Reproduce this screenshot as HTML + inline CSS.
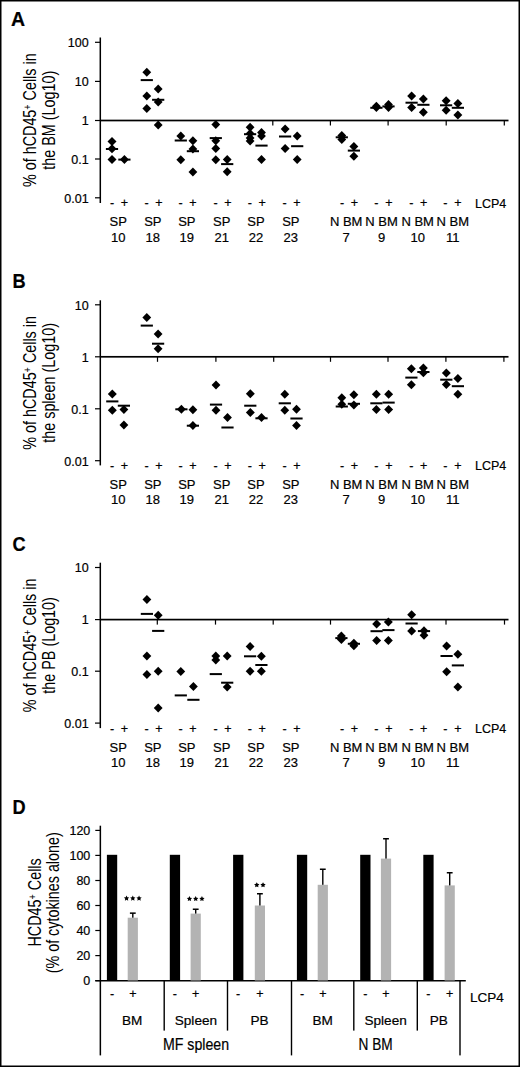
<!DOCTYPE html>
<html><head><meta charset="utf-8"><style>
html,body{margin:0;padding:0;background:#fff;}
svg{display:block;}
text{font-family:"Liberation Sans", sans-serif;fill:#000;stroke:#000;stroke-width:0.2px;}
</style></head><body>
<svg width="520" height="1067" viewBox="0 0 520 1067">
<rect width="520" height="1067" fill="#fff"/>
<g fill="#000">
<rect x="0.75" y="0.75" width="518.5" height="1065.5" fill="none" stroke="#000" stroke-width="1.5"/>
<text x="11" y="25.5" font-size="19.5" font-weight="bold">A</text>
<g transform="translate(12.4,288) scale(0.91,1)"><text x="0" y="0" font-size="20" font-weight="bold">B</text></g>
<g transform="translate(12.4,551.2) scale(0.91,1)"><text x="0" y="0" font-size="20" font-weight="bold">C</text></g>
<g transform="translate(12.4,813.6) scale(0.91,1)"><text x="0" y="0" font-size="20" font-weight="bold">D</text></g>
<rect x="99.55" y="37.5" width="1.5" height="165.5"/>
<rect x="95" y="41.7" width="5.5" height="1.2"/>
<text x="88.7" y="47.1" font-size="12.5" text-anchor="end" >100</text>
<rect x="95" y="80.8" width="5.5" height="1.2"/>
<text x="88.7" y="86.2" font-size="12.5" text-anchor="end" >10</text>
<rect x="95" y="119.9" width="5.5" height="1.2"/>
<text x="88.7" y="125.3" font-size="12.5" text-anchor="end" >1</text>
<rect x="95" y="158.4" width="5.5" height="1.2"/>
<text x="88.7" y="163.8" font-size="12.5" text-anchor="end" >0.1</text>
<rect x="95" y="197.2" width="5.5" height="1.2"/>
<text x="88.7" y="202.6" font-size="12.5" text-anchor="end" >0.01</text>
<rect x="100.3" y="119.65" width="408.2" height="1.7"/>
<rect x="272.2" y="120.5" width="1.2" height="5"/>
<rect x="329.8" y="120.5" width="1.2" height="5"/>
<rect x="387.5" y="120.5" width="1.2" height="5"/>
<rect x="445.6" y="120.5" width="1.2" height="5"/>
<rect x="503.7" y="120.5" width="1.2" height="5"/>
<path d="M112.0 137.1L116.5 141.6L112.0 146.1L107.5 141.6Z"/>
<path d="M112.0 144.3L116.5 148.8L112.0 153.3L107.5 148.8Z"/>
<path d="M112.0 155.0L116.5 159.5L112.0 164.0L107.5 159.5Z"/>
<path d="M124.4 155.1L128.8 159.6L124.4 164.1L120.0 159.6Z"/>
<rect x="105.9" y="148.0" width="12.2" height="2.0"/>
<rect x="118.3" y="158.6" width="12.2" height="2.0"/>
<path d="M146.8 67.7L151.2 72.2L146.8 76.7L142.4 72.2Z"/>
<path d="M146.8 91.5L151.2 96.0L146.8 100.5L142.4 96.0Z"/>
<path d="M146.8 103.9L151.2 108.4L146.8 112.9L142.4 108.4Z"/>
<path d="M158.2 84.4L162.6 88.9L158.2 93.4L153.8 88.9Z"/>
<path d="M158.2 97.5L162.6 102.0L158.2 106.5L153.8 102.0Z"/>
<path d="M158.2 120.5L162.6 125.0L158.2 129.5L153.8 125.0Z"/>
<rect x="140.7" y="79.1" width="12.2" height="2.0"/>
<rect x="152.1" y="98.8" width="12.2" height="2.0"/>
<path d="M180.8 131.6L185.2 136.1L180.8 140.6L176.4 136.1Z"/>
<path d="M180.8 155.2L185.2 159.7L180.8 164.2L176.4 159.7Z"/>
<path d="M192.9 136.3L197.3 140.8L192.9 145.3L188.5 140.8Z"/>
<path d="M192.9 144.4L197.3 148.9L192.9 153.4L188.5 148.9Z"/>
<path d="M192.9 167.6L197.3 172.1L192.9 176.6L188.5 172.1Z"/>
<rect x="174.7" y="139.5" width="12.2" height="2.0"/>
<rect x="186.8" y="150.2" width="12.2" height="2.0"/>
<path d="M215.8 119.9L220.2 124.4L215.8 128.9L211.4 124.4Z"/>
<path d="M215.8 136.2L220.2 140.7L215.8 145.2L211.4 140.7Z"/>
<path d="M215.8 144.0L220.2 148.5L215.8 153.0L211.4 148.5Z"/>
<path d="M215.8 155.2L220.2 159.7L215.8 164.2L211.4 159.7Z"/>
<path d="M227.2 154.9L231.6 159.4L227.2 163.9L222.8 159.4Z"/>
<path d="M227.2 167.3L231.6 171.8L227.2 176.3L222.8 171.8Z"/>
<rect x="209.7" y="137.1" width="12.2" height="2.0"/>
<rect x="221.1" y="163.1" width="12.2" height="2.0"/>
<path d="M250.1 122.7L254.5 127.2L250.1 131.7L245.7 127.2Z"/>
<path d="M250.1 129.0L254.5 133.5L250.1 138.0L245.7 133.5Z"/>
<path d="M250.1 133.5L254.5 138.0L250.1 142.5L245.7 138.0Z"/>
<path d="M250.1 136.6L254.5 141.1L250.1 145.6L245.7 141.1Z"/>
<path d="M261.5 128.1L265.9 132.6L261.5 137.1L257.1 132.6Z"/>
<path d="M261.5 131.5L265.9 136.0L261.5 140.5L257.1 136.0Z"/>
<path d="M261.5 154.9L265.9 159.4L261.5 163.9L257.1 159.4Z"/>
<rect x="244.0" y="133.2" width="12.2" height="2.0"/>
<rect x="255.4" y="144.6" width="12.2" height="2.0"/>
<path d="M285.1 124.6L289.6 129.1L285.1 133.6L280.7 129.1Z"/>
<path d="M285.1 144.1L289.6 148.6L285.1 153.1L280.7 148.6Z"/>
<path d="M297.2 131.4L301.6 135.9L297.2 140.4L292.8 135.9Z"/>
<path d="M297.2 154.9L301.6 159.4L297.2 163.9L292.8 159.4Z"/>
<rect x="279.0" y="135.5" width="12.2" height="2.0"/>
<rect x="291.1" y="145.2" width="12.2" height="2.0"/>
<path d="M341.8 131.0L346.2 135.5L341.8 140.0L337.4 135.5Z"/>
<path d="M341.8 134.9L346.2 139.4L341.8 143.9L337.4 139.4Z"/>
<path d="M353.9 141.9L358.3 146.4L353.9 150.9L349.4 146.4Z"/>
<path d="M353.9 151.8L358.3 156.3L353.9 160.8L349.4 156.3Z"/>
<rect x="335.7" y="136.3" width="12.2" height="2.0"/>
<rect x="347.8" y="149.6" width="12.2" height="2.0"/>
<path d="M376.4 101.8L380.8 106.3L376.4 110.8L371.9 106.3Z"/>
<path d="M376.4 102.9L380.8 107.4L376.4 111.9L371.9 107.4Z"/>
<path d="M388.5 100.1L392.9 104.6L388.5 109.1L384.1 104.6Z"/>
<path d="M388.5 102.9L392.9 107.4L388.5 111.9L384.1 107.4Z"/>
<rect x="370.3" y="106.8" width="12.2" height="2.0"/>
<rect x="382.4" y="105.4" width="12.2" height="2.0"/>
<path d="M411.6 91.4L416.1 95.9L411.6 100.4L407.2 95.9Z"/>
<path d="M411.6 103.0L416.1 107.5L411.6 112.0L407.2 107.5Z"/>
<path d="M423.4 94.6L427.8 99.1L423.4 103.6L418.9 99.1Z"/>
<path d="M423.4 107.7L427.8 112.2L423.4 116.7L418.9 112.2Z"/>
<rect x="405.5" y="101.7" width="12.2" height="2.0"/>
<rect x="417.3" y="103.8" width="12.2" height="2.0"/>
<path d="M446.1 96.3L450.6 100.8L446.1 105.3L441.7 100.8Z"/>
<path d="M446.1 105.7L450.6 110.2L446.1 114.7L441.7 110.2Z"/>
<path d="M457.9 99.0L462.3 103.5L457.9 108.0L453.4 103.5Z"/>
<path d="M457.9 110.4L462.3 114.9L457.9 119.4L453.4 114.9Z"/>
<rect x="440.0" y="104.3" width="12.2" height="2.0"/>
<rect x="451.8" y="106.8" width="12.2" height="2.0"/>
<text x="112.0" y="207.4" font-size="12.5" text-anchor="middle" >-</text>
<text x="124.4" y="207.4" font-size="12.5" text-anchor="middle" >+</text>
<text x="146.6" y="207.4" font-size="12.5" text-anchor="middle" >-</text>
<text x="159.0" y="207.4" font-size="12.5" text-anchor="middle" >+</text>
<text x="180.6" y="207.4" font-size="12.5" text-anchor="middle" >-</text>
<text x="193.0" y="207.4" font-size="12.5" text-anchor="middle" >+</text>
<text x="215.5" y="207.4" font-size="12.5" text-anchor="middle" >-</text>
<text x="227.9" y="207.4" font-size="12.5" text-anchor="middle" >+</text>
<text x="249.8" y="207.4" font-size="12.5" text-anchor="middle" >-</text>
<text x="262.2" y="207.4" font-size="12.5" text-anchor="middle" >+</text>
<text x="284.6" y="207.4" font-size="12.5" text-anchor="middle" >-</text>
<text x="297.0" y="207.4" font-size="12.5" text-anchor="middle" >+</text>
<text x="342.0" y="207.4" font-size="12.5" text-anchor="middle" >-</text>
<text x="354.4" y="207.4" font-size="12.5" text-anchor="middle" >+</text>
<text x="376.4" y="207.4" font-size="12.5" text-anchor="middle" >-</text>
<text x="388.8" y="207.4" font-size="12.5" text-anchor="middle" >+</text>
<text x="411.3" y="207.4" font-size="12.5" text-anchor="middle" >-</text>
<text x="423.7" y="207.4" font-size="12.5" text-anchor="middle" >+</text>
<text x="445.4" y="207.4" font-size="12.5" text-anchor="middle" >-</text>
<text x="457.8" y="207.4" font-size="12.5" text-anchor="middle" >+</text>
<text x="118.2" y="226.3" font-size="13" text-anchor="middle" >SP</text>
<text x="118.2" y="241.9" font-size="13" text-anchor="middle" >10</text>
<text x="152.8" y="226.3" font-size="13" text-anchor="middle" >SP</text>
<text x="152.8" y="241.9" font-size="13" text-anchor="middle" >18</text>
<text x="186.8" y="226.3" font-size="13" text-anchor="middle" >SP</text>
<text x="186.8" y="241.9" font-size="13" text-anchor="middle" >19</text>
<text x="221.7" y="226.3" font-size="13" text-anchor="middle" >SP</text>
<text x="221.7" y="241.9" font-size="13" text-anchor="middle" >21</text>
<text x="256.0" y="226.3" font-size="13" text-anchor="middle" >SP</text>
<text x="256.0" y="241.9" font-size="13" text-anchor="middle" >22</text>
<text x="290.8" y="226.3" font-size="13" text-anchor="middle" >SP</text>
<text x="290.8" y="241.9" font-size="13" text-anchor="middle" >23</text>
<text x="346.2" y="226.3" font-size="13" text-anchor="middle" >N BM</text>
<text x="346.2" y="241.9" font-size="13" text-anchor="middle" >7</text>
<text x="381.6" y="226.3" font-size="13" text-anchor="middle" >N BM</text>
<text x="381.6" y="241.9" font-size="13" text-anchor="middle" >9</text>
<text x="417.7" y="226.3" font-size="13" text-anchor="middle" >N BM</text>
<text x="417.7" y="241.9" font-size="13" text-anchor="middle" >10</text>
<text x="452.8" y="226.3" font-size="13" text-anchor="middle" >N BM</text>
<text x="452.8" y="241.9" font-size="13" text-anchor="middle" >11</text>
<text x="475.0" y="207.9" font-size="12.5" text-anchor="start" >LCP4</text>
<g transform="translate(36.3,120.2) rotate(-90) scale(0.82,1)"><text x="0" y="0" font-size="17.5" text-anchor="middle" style="stroke-width:0">% of hCD45<tspan dy="-5.5" font-size="11">+</tspan><tspan dy="5.5"> Cells in</tspan></text></g>
<g transform="translate(55.2,120.2) rotate(-90) scale(0.82,1)"><text x="0" y="0" font-size="17.5" text-anchor="middle" style="stroke-width:0">the BM (Log10)</text></g>
<rect x="99.55" y="300.3" width="1.5" height="165.09999999999997"/>
<rect x="95" y="304.2" width="5.5" height="1.2"/>
<text x="88.7" y="309.6" font-size="12.5" text-anchor="end" >10</text>
<rect x="95" y="356.2" width="5.5" height="1.2"/>
<text x="88.7" y="361.6" font-size="12.5" text-anchor="end" >1</text>
<rect x="95" y="408.2" width="5.5" height="1.2"/>
<text x="88.7" y="413.6" font-size="12.5" text-anchor="end" >0.1</text>
<rect x="95" y="460.1" width="5.5" height="1.2"/>
<text x="88.7" y="465.5" font-size="12.5" text-anchor="end" >0.01</text>
<rect x="100.3" y="355.95" width="408.2" height="1.7"/>
<rect x="156.9" y="356.8" width="1.2" height="5"/>
<rect x="215.3" y="356.8" width="1.2" height="5"/>
<rect x="273.1" y="356.8" width="1.2" height="5"/>
<rect x="329.9" y="356.8" width="1.2" height="5"/>
<rect x="387.4" y="356.8" width="1.2" height="5"/>
<rect x="445.3" y="356.8" width="1.2" height="5"/>
<rect x="503.3" y="356.8" width="1.2" height="5"/>
<path d="M112.3 389.6L116.8 394.1L112.3 398.6L107.8 394.1Z"/>
<path d="M112.3 405.7L116.8 410.2L112.3 414.7L107.8 410.2Z"/>
<path d="M123.9 405.1L128.3 409.6L123.9 414.1L119.5 409.6Z"/>
<path d="M123.9 420.5L128.3 425.0L123.9 429.5L119.5 425.0Z"/>
<rect x="106.2" y="400.4" width="12.2" height="2.0"/>
<rect x="117.8" y="404.7" width="12.2" height="2.0"/>
<path d="M146.8 313.0L151.2 317.5L146.8 322.0L142.4 317.5Z"/>
<path d="M158.1 329.5L162.5 334.0L158.1 338.5L153.7 334.0Z"/>
<path d="M158.1 344.2L162.5 348.7L158.1 353.2L153.7 348.7Z"/>
<rect x="140.7" y="324.6" width="12.2" height="2.0"/>
<rect x="152.0" y="342.7" width="12.2" height="2.0"/>
<path d="M181.4 404.8L185.8 409.3L181.4 413.8L177.0 409.3Z"/>
<path d="M192.9 405.2L197.3 409.7L192.9 414.2L188.5 409.7Z"/>
<path d="M192.9 421.0L197.3 425.5L192.9 430.0L188.5 425.5Z"/>
<rect x="175.3" y="408.3" width="12.2" height="2.0"/>
<rect x="186.8" y="424.7" width="12.2" height="2.0"/>
<path d="M216.0 380.6L220.4 385.1L216.0 389.6L211.6 385.1Z"/>
<path d="M216.0 405.8L220.4 410.3L216.0 414.8L211.6 410.3Z"/>
<path d="M227.5 412.9L231.9 417.4L227.5 421.9L223.1 417.4Z"/>
<rect x="209.9" y="403.6" width="12.2" height="2.0"/>
<rect x="221.4" y="426.5" width="12.2" height="2.0"/>
<path d="M250.3 389.3L254.8 393.8L250.3 398.3L245.9 393.8Z"/>
<path d="M250.3 407.9L254.8 412.4L250.3 416.9L245.9 412.4Z"/>
<path d="M261.5 412.9L265.9 417.4L261.5 421.9L257.1 417.4Z"/>
<rect x="244.2" y="404.7" width="12.2" height="2.0"/>
<rect x="255.4" y="417.3" width="12.2" height="2.0"/>
<path d="M284.8 389.7L289.2 394.2L284.8 398.7L280.4 394.2Z"/>
<path d="M284.8 405.8L289.2 410.3L284.8 414.8L280.4 410.3Z"/>
<path d="M296.5 404.8L300.9 409.3L296.5 413.8L292.1 409.3Z"/>
<path d="M296.5 421.0L300.9 425.5L296.5 430.0L292.1 425.5Z"/>
<rect x="278.7" y="402.3" width="12.2" height="2.0"/>
<rect x="290.4" y="417.5" width="12.2" height="2.0"/>
<path d="M341.8 393.2L346.2 397.7L341.8 402.2L337.4 397.7Z"/>
<path d="M341.8 399.7L346.2 404.2L341.8 408.7L337.4 404.2Z"/>
<path d="M353.9 390.3L358.3 394.8L353.9 399.3L349.4 394.8Z"/>
<path d="M353.9 400.4L358.3 404.9L353.9 409.4L349.4 404.9Z"/>
<rect x="335.7" y="405.5" width="12.2" height="2.0"/>
<rect x="347.8" y="402.8" width="12.2" height="2.0"/>
<path d="M376.4 389.8L380.8 394.3L376.4 398.8L371.9 394.3Z"/>
<path d="M376.4 405.1L380.8 409.6L376.4 414.1L371.9 409.6Z"/>
<path d="M388.6 389.8L393.1 394.3L388.6 398.8L384.2 394.3Z"/>
<path d="M388.6 405.1L393.1 409.6L388.6 414.1L384.2 409.6Z"/>
<rect x="370.3" y="402.3" width="12.2" height="2.0"/>
<rect x="382.5" y="401.6" width="12.2" height="2.0"/>
<path d="M411.4 364.3L415.8 368.8L411.4 373.3L406.9 368.8Z"/>
<path d="M411.4 380.3L415.8 384.8L411.4 389.3L406.9 384.8Z"/>
<path d="M423.4 363.6L427.8 368.1L423.4 372.6L418.9 368.1Z"/>
<path d="M423.4 368.3L427.8 372.8L423.4 377.3L418.9 372.8Z"/>
<rect x="405.3" y="376.6" width="12.2" height="2.0"/>
<rect x="417.3" y="371.0" width="12.2" height="2.0"/>
<path d="M446.3 368.6L450.8 373.1L446.3 377.6L441.9 373.1Z"/>
<path d="M446.3 380.0L450.8 384.5L446.3 389.0L441.9 384.5Z"/>
<path d="M457.9 374.0L462.3 378.5L457.9 383.0L453.4 378.5Z"/>
<path d="M457.9 389.8L462.3 394.3L457.9 398.8L453.4 394.3Z"/>
<rect x="440.2" y="378.7" width="12.2" height="2.0"/>
<rect x="451.8" y="385.2" width="12.2" height="2.0"/>
<text x="112.0" y="469.8" font-size="12.5" text-anchor="middle" >-</text>
<text x="124.4" y="469.8" font-size="12.5" text-anchor="middle" >+</text>
<text x="146.6" y="469.8" font-size="12.5" text-anchor="middle" >-</text>
<text x="159.0" y="469.8" font-size="12.5" text-anchor="middle" >+</text>
<text x="180.6" y="469.8" font-size="12.5" text-anchor="middle" >-</text>
<text x="193.0" y="469.8" font-size="12.5" text-anchor="middle" >+</text>
<text x="215.5" y="469.8" font-size="12.5" text-anchor="middle" >-</text>
<text x="227.9" y="469.8" font-size="12.5" text-anchor="middle" >+</text>
<text x="249.8" y="469.8" font-size="12.5" text-anchor="middle" >-</text>
<text x="262.2" y="469.8" font-size="12.5" text-anchor="middle" >+</text>
<text x="284.6" y="469.8" font-size="12.5" text-anchor="middle" >-</text>
<text x="297.0" y="469.8" font-size="12.5" text-anchor="middle" >+</text>
<text x="342.0" y="469.8" font-size="12.5" text-anchor="middle" >-</text>
<text x="354.4" y="469.8" font-size="12.5" text-anchor="middle" >+</text>
<text x="376.4" y="469.8" font-size="12.5" text-anchor="middle" >-</text>
<text x="388.8" y="469.8" font-size="12.5" text-anchor="middle" >+</text>
<text x="411.3" y="469.8" font-size="12.5" text-anchor="middle" >-</text>
<text x="423.7" y="469.8" font-size="12.5" text-anchor="middle" >+</text>
<text x="445.4" y="469.8" font-size="12.5" text-anchor="middle" >-</text>
<text x="457.8" y="469.8" font-size="12.5" text-anchor="middle" >+</text>
<text x="118.2" y="488.7" font-size="13" text-anchor="middle" >SP</text>
<text x="118.2" y="504.3" font-size="13" text-anchor="middle" >10</text>
<text x="152.8" y="488.7" font-size="13" text-anchor="middle" >SP</text>
<text x="152.8" y="504.3" font-size="13" text-anchor="middle" >18</text>
<text x="186.8" y="488.7" font-size="13" text-anchor="middle" >SP</text>
<text x="186.8" y="504.3" font-size="13" text-anchor="middle" >19</text>
<text x="221.7" y="488.7" font-size="13" text-anchor="middle" >SP</text>
<text x="221.7" y="504.3" font-size="13" text-anchor="middle" >21</text>
<text x="256.0" y="488.7" font-size="13" text-anchor="middle" >SP</text>
<text x="256.0" y="504.3" font-size="13" text-anchor="middle" >22</text>
<text x="290.8" y="488.7" font-size="13" text-anchor="middle" >SP</text>
<text x="290.8" y="504.3" font-size="13" text-anchor="middle" >23</text>
<text x="346.2" y="488.7" font-size="13" text-anchor="middle" >N BM</text>
<text x="346.2" y="504.3" font-size="13" text-anchor="middle" >7</text>
<text x="381.6" y="488.7" font-size="13" text-anchor="middle" >N BM</text>
<text x="381.6" y="504.3" font-size="13" text-anchor="middle" >9</text>
<text x="417.7" y="488.7" font-size="13" text-anchor="middle" >N BM</text>
<text x="417.7" y="504.3" font-size="13" text-anchor="middle" >10</text>
<text x="452.8" y="488.7" font-size="13" text-anchor="middle" >N BM</text>
<text x="452.8" y="504.3" font-size="13" text-anchor="middle" >11</text>
<text x="475.0" y="470.3" font-size="12.5" text-anchor="start" >LCP4</text>
<g transform="translate(36.3,382.9) rotate(-90) scale(0.82,1)"><text x="0" y="0" font-size="17.5" text-anchor="middle" style="stroke-width:0">% of hCD45<tspan dy="-5.5" font-size="11">+</tspan><tspan dy="5.5"> Cells in</tspan></text></g>
<g transform="translate(55.2,382.9) rotate(-90) scale(0.82,1)"><text x="0" y="0" font-size="17.5" text-anchor="middle" style="stroke-width:0">the spleen (Log10)</text></g>
<rect x="99.55" y="562.7" width="1.5" height="165.39999999999998"/>
<rect x="95" y="566.9" width="5.5" height="1.2"/>
<text x="88.7" y="572.3" font-size="12.5" text-anchor="end" >10</text>
<rect x="95" y="619.0" width="5.5" height="1.2"/>
<text x="88.7" y="624.4" font-size="12.5" text-anchor="end" >1</text>
<rect x="95" y="670.6" width="5.5" height="1.2"/>
<text x="88.7" y="676.0" font-size="12.5" text-anchor="end" >0.1</text>
<rect x="95" y="722.5" width="5.5" height="1.2"/>
<text x="88.7" y="727.9" font-size="12.5" text-anchor="end" >0.01</text>
<rect x="100.3" y="618.75" width="408.2" height="1.7"/>
<rect x="156.7" y="619.6" width="1.2" height="5"/>
<rect x="214.9" y="619.6" width="1.2" height="5"/>
<rect x="272.6" y="619.6" width="1.2" height="5"/>
<rect x="329.9" y="619.6" width="1.2" height="5"/>
<rect x="387.4" y="619.6" width="1.2" height="5"/>
<rect x="445.4" y="619.6" width="1.2" height="5"/>
<rect x="503.9" y="619.6" width="1.2" height="5"/>
<path d="M146.9 594.9L151.3 599.4L146.9 603.9L142.5 599.4Z"/>
<path d="M146.9 651.6L151.3 656.1L146.9 660.6L142.5 656.1Z"/>
<path d="M146.9 670.1L151.3 674.6L146.9 679.1L142.5 674.6Z"/>
<path d="M158.2 610.7L162.6 615.2L158.2 619.7L153.8 615.2Z"/>
<path d="M158.2 666.8L162.6 671.3L158.2 675.8L153.8 671.3Z"/>
<path d="M158.2 703.6L162.6 708.1L158.2 712.6L153.8 708.1Z"/>
<rect x="140.8" y="612.9" width="12.2" height="2.0"/>
<rect x="152.1" y="629.9" width="12.2" height="2.0"/>
<path d="M180.8 666.9L185.2 671.4L180.8 675.9L176.4 671.4Z"/>
<path d="M193.4 682.1L197.8 686.6L193.4 691.1L189.0 686.6Z"/>
<rect x="174.7" y="694.4" width="12.2" height="2.0"/>
<rect x="187.3" y="698.8" width="12.2" height="2.0"/>
<path d="M215.8 651.4L220.2 655.9L215.8 660.4L211.4 655.9Z"/>
<path d="M215.8 655.5L220.2 660.0L215.8 664.5L211.4 660.0Z"/>
<path d="M227.2 651.6L231.6 656.1L227.2 660.6L222.8 656.1Z"/>
<path d="M227.2 682.6L231.6 687.1L227.2 691.6L222.8 687.1Z"/>
<rect x="209.7" y="673.1" width="12.2" height="2.0"/>
<rect x="221.1" y="681.7" width="12.2" height="2.0"/>
<path d="M250.1 641.9L254.5 646.4L250.1 650.9L245.7 646.4Z"/>
<path d="M250.1 666.8L254.5 671.3L250.1 675.8L245.7 671.3Z"/>
<path d="M261.4 651.7L265.8 656.2L261.4 660.7L256.9 656.2Z"/>
<path d="M261.4 666.8L265.8 671.3L261.4 675.8L256.9 671.3Z"/>
<rect x="244.0" y="655.3" width="12.2" height="2.0"/>
<rect x="255.3" y="664.0" width="12.2" height="2.0"/>
<path d="M341.4 631.5L345.8 636.0L341.4 640.5L336.9 636.0Z"/>
<path d="M341.4 634.9L345.8 639.4L341.4 643.9L336.9 639.4Z"/>
<path d="M353.9 638.8L358.3 643.3L353.9 647.8L349.4 643.3Z"/>
<path d="M353.9 641.2L358.3 645.7L353.9 650.2L349.4 645.7Z"/>
<rect x="335.3" y="637.1" width="12.2" height="2.0"/>
<rect x="347.8" y="642.8" width="12.2" height="2.0"/>
<path d="M376.6 619.6L381.1 624.1L376.6 628.6L372.2 624.1Z"/>
<path d="M376.6 636.1L381.1 640.6L376.6 645.1L372.2 640.6Z"/>
<path d="M388.4 617.6L392.8 622.1L388.4 626.6L383.9 622.1Z"/>
<path d="M388.4 636.1L392.8 640.6L388.4 645.1L383.9 640.6Z"/>
<rect x="370.5" y="630.2" width="12.2" height="2.0"/>
<rect x="382.3" y="629.1" width="12.2" height="2.0"/>
<path d="M411.6 610.3L416.1 614.8L411.6 619.3L407.2 614.8Z"/>
<path d="M411.6 626.4L416.1 630.9L411.6 635.4L407.2 630.9Z"/>
<path d="M424.0 626.2L428.4 630.7L424.0 635.2L419.6 630.7Z"/>
<path d="M424.0 630.7L428.4 635.2L424.0 639.7L419.6 635.2Z"/>
<rect x="405.5" y="622.5" width="12.2" height="2.0"/>
<rect x="417.9" y="630.1" width="12.2" height="2.0"/>
<path d="M446.6 641.6L451.1 646.1L446.6 650.6L442.2 646.1Z"/>
<path d="M446.6 667.2L451.1 671.7L446.6 676.2L442.2 671.7Z"/>
<path d="M457.9 649.7L462.3 654.2L457.9 658.7L453.4 654.2Z"/>
<path d="M457.9 682.4L462.3 686.9L457.9 691.4L453.4 686.9Z"/>
<rect x="440.5" y="655.0" width="12.2" height="2.0"/>
<rect x="451.8" y="664.4" width="12.2" height="2.0"/>
<text x="112.0" y="732.5" font-size="12.5" text-anchor="middle" >-</text>
<text x="124.4" y="732.5" font-size="12.5" text-anchor="middle" >+</text>
<text x="146.6" y="732.5" font-size="12.5" text-anchor="middle" >-</text>
<text x="159.0" y="732.5" font-size="12.5" text-anchor="middle" >+</text>
<text x="180.6" y="732.5" font-size="12.5" text-anchor="middle" >-</text>
<text x="193.0" y="732.5" font-size="12.5" text-anchor="middle" >+</text>
<text x="215.5" y="732.5" font-size="12.5" text-anchor="middle" >-</text>
<text x="227.9" y="732.5" font-size="12.5" text-anchor="middle" >+</text>
<text x="249.8" y="732.5" font-size="12.5" text-anchor="middle" >-</text>
<text x="262.2" y="732.5" font-size="12.5" text-anchor="middle" >+</text>
<text x="284.6" y="732.5" font-size="12.5" text-anchor="middle" >-</text>
<text x="297.0" y="732.5" font-size="12.5" text-anchor="middle" >+</text>
<text x="342.0" y="732.5" font-size="12.5" text-anchor="middle" >-</text>
<text x="354.4" y="732.5" font-size="12.5" text-anchor="middle" >+</text>
<text x="376.4" y="732.5" font-size="12.5" text-anchor="middle" >-</text>
<text x="388.8" y="732.5" font-size="12.5" text-anchor="middle" >+</text>
<text x="411.3" y="732.5" font-size="12.5" text-anchor="middle" >-</text>
<text x="423.7" y="732.5" font-size="12.5" text-anchor="middle" >+</text>
<text x="445.4" y="732.5" font-size="12.5" text-anchor="middle" >-</text>
<text x="457.8" y="732.5" font-size="12.5" text-anchor="middle" >+</text>
<text x="118.2" y="752.2" font-size="13" text-anchor="middle" >SP</text>
<text x="118.2" y="767.0" font-size="13" text-anchor="middle" >10</text>
<text x="152.8" y="752.2" font-size="13" text-anchor="middle" >SP</text>
<text x="152.8" y="767.0" font-size="13" text-anchor="middle" >18</text>
<text x="186.8" y="752.2" font-size="13" text-anchor="middle" >SP</text>
<text x="186.8" y="767.0" font-size="13" text-anchor="middle" >19</text>
<text x="221.7" y="752.2" font-size="13" text-anchor="middle" >SP</text>
<text x="221.7" y="767.0" font-size="13" text-anchor="middle" >21</text>
<text x="256.0" y="752.2" font-size="13" text-anchor="middle" >SP</text>
<text x="256.0" y="767.0" font-size="13" text-anchor="middle" >22</text>
<text x="290.8" y="752.2" font-size="13" text-anchor="middle" >SP</text>
<text x="290.8" y="767.0" font-size="13" text-anchor="middle" >23</text>
<text x="346.2" y="752.2" font-size="13" text-anchor="middle" >N BM</text>
<text x="346.2" y="767.0" font-size="13" text-anchor="middle" >7</text>
<text x="381.6" y="752.2" font-size="13" text-anchor="middle" >N BM</text>
<text x="381.6" y="767.0" font-size="13" text-anchor="middle" >9</text>
<text x="417.7" y="752.2" font-size="13" text-anchor="middle" >N BM</text>
<text x="417.7" y="767.0" font-size="13" text-anchor="middle" >10</text>
<text x="452.8" y="752.2" font-size="13" text-anchor="middle" >N BM</text>
<text x="452.8" y="767.0" font-size="13" text-anchor="middle" >11</text>
<text x="475.0" y="733.0" font-size="12.5" text-anchor="start" >LCP4</text>
<g transform="translate(36.3,645.4) rotate(-90) scale(0.82,1)"><text x="0" y="0" font-size="17.5" text-anchor="middle" style="stroke-width:0">% of hCD45<tspan dy="-5.5" font-size="11">+</tspan><tspan dy="5.5"> Cells in</tspan></text></g>
<g transform="translate(55.2,645.4) rotate(-90) scale(0.82,1)"><text x="0" y="0" font-size="17.5" text-anchor="middle" style="stroke-width:0">the PB (Log10)</text></g>
<rect x="99.6" y="825.7" width="1.5" height="229.7"/>
<rect x="95.3" y="980.0" width="5" height="1.2"/>
<text x="90.3" y="985.0" font-size="12.5" text-anchor="end" >0</text>
<rect x="95.3" y="955.0" width="5" height="1.2"/>
<text x="90.3" y="960.0" font-size="12.5" text-anchor="end" >20</text>
<rect x="95.3" y="929.9" width="5" height="1.2"/>
<text x="90.3" y="934.9" font-size="12.5" text-anchor="end" >40</text>
<rect x="95.3" y="904.9" width="5" height="1.2"/>
<text x="90.3" y="909.9" font-size="12.5" text-anchor="end" >60</text>
<rect x="95.3" y="879.9" width="5" height="1.2"/>
<text x="90.3" y="884.9" font-size="12.5" text-anchor="end" >80</text>
<rect x="95.3" y="854.8" width="5" height="1.2"/>
<text x="90.3" y="859.8" font-size="12.5" text-anchor="end" >100</text>
<rect x="95.3" y="829.8" width="5" height="1.2"/>
<text x="90.3" y="834.8" font-size="12.5" text-anchor="end" >120</text>
<rect x="95.3" y="980.0" width="370.5" height="1.5"/>
<rect x="163.5" y="980.5" width="1.4" height="50.1"/>
<rect x="226.8" y="980.5" width="1.4" height="50.1"/>
<rect x="290.8" y="980.5" width="1.4" height="74.9"/>
<rect x="353.1" y="980.5" width="1.4" height="50.1"/>
<rect x="416.6" y="980.5" width="1.4" height="50.1"/>
<rect x="459.3" y="980.5" width="1.4" height="74.9"/>
<rect x="106.9" y="854.8" width="10.3" height="125.7"/>
<rect x="127.7" y="917.7" width="10.2" height="62.8" fill="#b3b3b3"/>
<rect x="132.1" y="913.1" width="1.4" height="4.6"/>
<rect x="129.9" y="912.4" width="5.8" height="1.5"/>
<polygon points="126.55,895.60 127.37,897.27 129.21,897.53 127.88,898.83 128.20,900.67 126.55,899.80 124.90,900.67 125.22,898.83 123.89,897.53 125.73,897.27"/>
<polygon points="132.80,895.60 133.62,897.27 135.46,897.53 134.13,898.83 134.45,900.67 132.80,899.80 131.15,900.67 131.47,898.83 130.14,897.53 131.98,897.27"/>
<polygon points="139.05,895.60 139.87,897.27 141.71,897.53 140.38,898.83 140.70,900.67 139.05,899.80 137.40,900.67 137.72,898.83 136.39,897.53 138.23,897.27"/>
<text x="112.0" y="998.4" font-size="12.5" text-anchor="middle" >-</text>
<text x="132.8" y="998.4" font-size="12.5" text-anchor="middle" >+</text>
<rect x="169.8" y="854.8" width="10.3" height="125.7"/>
<rect x="190.6" y="913.6" width="10.2" height="66.9" fill="#b3b3b3"/>
<rect x="195.0" y="909.2" width="1.4" height="4.4"/>
<rect x="192.8" y="908.5" width="5.8" height="1.5"/>
<polygon points="189.45,896.00 190.27,897.67 192.11,897.93 190.78,899.23 191.10,901.07 189.45,900.20 187.80,901.07 188.12,899.23 186.79,897.93 188.63,897.67"/>
<polygon points="195.70,896.00 196.52,897.67 198.36,897.93 197.03,899.23 197.35,901.07 195.70,900.20 194.05,901.07 194.37,899.23 193.04,897.93 194.88,897.67"/>
<polygon points="201.95,896.00 202.77,897.67 204.61,897.93 203.28,899.23 203.60,901.07 201.95,900.20 200.30,901.07 200.62,899.23 199.29,897.93 201.13,897.67"/>
<text x="174.9" y="998.4" font-size="12.5" text-anchor="middle" >-</text>
<text x="195.7" y="998.4" font-size="12.5" text-anchor="middle" >+</text>
<rect x="233.1" y="854.8" width="10.3" height="125.7"/>
<rect x="254.8" y="905.5" width="10.2" height="75.0" fill="#b3b3b3"/>
<rect x="259.2" y="893.7" width="1.4" height="11.8"/>
<rect x="257.0" y="893.0" width="5.8" height="1.5"/>
<polygon points="256.78,882.20 257.60,883.87 259.44,884.13 258.11,885.43 258.42,887.27 256.78,886.40 255.13,887.27 255.44,885.43 254.11,884.13 255.95,883.87"/>
<polygon points="263.03,882.20 263.85,883.87 265.69,884.13 264.36,885.43 264.67,887.27 263.03,886.40 261.38,887.27 261.69,885.43 260.36,884.13 262.20,883.87"/>
<text x="238.2" y="998.4" font-size="12.5" text-anchor="middle" >-</text>
<text x="259.9" y="998.4" font-size="12.5" text-anchor="middle" >+</text>
<rect x="296.9" y="854.8" width="10.3" height="125.7"/>
<rect x="317.7" y="884.8" width="10.2" height="95.7" fill="#b3b3b3"/>
<rect x="322.1" y="869.2" width="1.4" height="15.6"/>
<rect x="319.9" y="868.5" width="5.8" height="1.5"/>
<text x="302.0" y="998.4" font-size="12.5" text-anchor="middle" >-</text>
<text x="322.8" y="998.4" font-size="12.5" text-anchor="middle" >+</text>
<rect x="360.2" y="854.8" width="10.3" height="125.7"/>
<rect x="380.9" y="858.6" width="10.2" height="121.9" fill="#b3b3b3"/>
<rect x="385.3" y="838.7" width="1.4" height="19.9"/>
<rect x="383.1" y="838.0" width="5.8" height="1.5"/>
<text x="365.3" y="998.4" font-size="12.5" text-anchor="middle" >-</text>
<text x="386.0" y="998.4" font-size="12.5" text-anchor="middle" >+</text>
<rect x="423.3" y="854.8" width="10.3" height="125.7"/>
<rect x="444.6" y="885.4" width="10.2" height="95.1" fill="#b3b3b3"/>
<rect x="449.0" y="872.7" width="1.4" height="12.7"/>
<rect x="446.8" y="872.0" width="5.8" height="1.5"/>
<text x="428.4" y="998.4" font-size="12.5" text-anchor="middle" >-</text>
<text x="449.7" y="998.4" font-size="12.5" text-anchor="middle" >+</text>
<text x="132.1" y="1024.5" font-size="13.6" text-anchor="middle" >BM</text>
<text x="195.9" y="1024.5" font-size="13.6" text-anchor="middle" >Spleen</text>
<text x="259.5" y="1024.5" font-size="13.6" text-anchor="middle" >PB</text>
<text x="322.7" y="1024.5" font-size="13.6" text-anchor="middle" >BM</text>
<text x="385.6" y="1024.5" font-size="13.6" text-anchor="middle" >Spleen</text>
<text x="438.7" y="1024.5" font-size="13.6" text-anchor="middle" >PB</text>
<g transform="translate(196.0,1049.6) scale(0.885,1)"><text x="0" y="0" font-size="16" text-anchor="middle">MF spleen</text></g>
<g transform="translate(375.6,1050.0) scale(0.87,1)"><text x="0" y="0" font-size="15.7" text-anchor="middle">N BM</text></g>
<text x="470.0" y="1002.0" font-size="13.5" text-anchor="start" >LCP4</text>
<g transform="translate(41.3,902.4) rotate(-90) scale(0.82,1)"><text x="0" y="0" font-size="17.5" text-anchor="middle" style="stroke-width:0">HCD45<tspan dy="-5.5" font-size="11">+</tspan><tspan dy="5.5"> Cells</tspan></text></g>
<g transform="translate(58.9,902.8) rotate(-90) scale(0.82,1)"><text x="0" y="0" font-size="17.5" text-anchor="middle" style="stroke-width:0">(% of cytokines alone)</text></g>
</g>
</svg>
</body></html>
